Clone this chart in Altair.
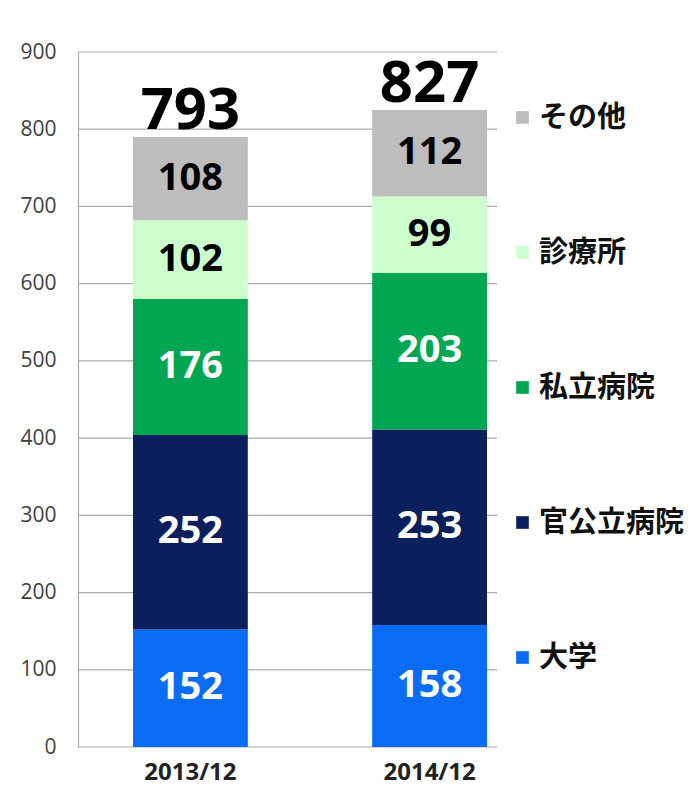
import altair as alt
import pandas as pd

periods = ["2013/12", "2014/12"]
series = ["大学", "官公立病院", "私立病院", "診療所", "その他"]
colors = ["#0A6CF5", "#0B1F5C", "#00A651", "#CCFFCC", "#BDBDBD"]
values_2013 = [152, 252, 176, 102, 108]
values_2014 = [158, 253, 203, 99, 112]
totals_shown = [793, 827]
label_colors = ["white", "white", "white", "black", "black"]
tick_values = [0, 100, 200, 300, 400, 500, 600, 700, 800, 900]

rows = []
for p, vals in zip(periods, [values_2013, values_2014]):
    for i, (s, v) in enumerate(zip(series, vals)):
        rows.append({"period": p, "series": s, "value": v, "idx": i, "tcolor": label_colors[i]})
df = pd.DataFrame(rows)
tot_df = pd.DataFrame({"period": periods, "total": totals_shown})
grid_df = pd.DataFrame({"tick": tick_values})

W, H = 464, 695
yscale = alt.Scale(domain=[0, 900], nice=False)
xenc = alt.X("period:N", sort=periods, title=None,
             scale=alt.Scale(paddingInner=0.52, paddingOuter=0.23),
             axis=alt.Axis(domain=False, ticks=False, labelAngle=0, labelFont="Open Sans",
                           labelFontWeight="bold", labelFontSize=24, labelColor="#222222",
                           labelPadding=13))

grid = alt.Chart(grid_df).mark_rule(color="#ABABAB", strokeWidth=1.2).encode(
    y=alt.Y("tick:Q", scale=yscale),
    x=alt.value(0), x2=alt.value(419)
)

base = alt.Chart(df).transform_stack(
    stack="value", as_=["y0", "y1"], groupby=["period"], sort=[alt.SortField("idx", order="ascending")]
).transform_calculate(mid="(datum.y0 + datum.y1) / 2")

legend_order = list(reversed(series))
legend_colors = list(reversed(colors))

bars = base.mark_bar().encode(
    x=xenc,
    y=alt.Y("y0:Q", scale=yscale, title=None,
            axis=alt.Axis(values=tick_values, grid=False, ticks=False, domain=True,
                          domainColor="#ABABAB", domainWidth=1.2, labelFont="Open Sans",
                          labelFontSize=21, labelColor="#404040", labelPadding=22)),
    y2="y1:Q",
    color=alt.Color("series:N", scale=alt.Scale(domain=legend_order, range=legend_colors),
                    legend=alt.Legend(title=None, orient="none", legendX=430, legendY=51,
                                      symbolType="square", symbolSize=160, symbolStrokeWidth=0,
                                      labelFont="Noto Sans CJK JP", labelFontWeight="bold",
                                      labelFontSize=29, labelColor="#111111", labelOffset=2,
                                      rowPadding=105, padding=0, labelLimit=300)),
)

seg_text = base.mark_text(font="Open Sans", fontWeight="bold", fontSize=38, baseline="middle").encode(
    x=alt.X("period:N", sort=periods),
    y=alt.Y("mid:Q", scale=yscale),
    text=alt.Text("value:Q"),
    color=alt.Color("tcolor:N", scale=None),
)

totals = alt.Chart(tot_df).mark_text(
    font="Open Sans", fontWeight="bold", fontSize=58, baseline="alphabetic", dy=-6, color="black"
).encode(
    x=alt.X("period:N", sort=periods),
    y=alt.Y("total:Q", scale=yscale),
    text="total:Q",
)

chart = alt.layer(grid, bars, seg_text, totals).properties(
    width=W, height=H,
    autosize=alt.AutoSizeParams(type="none"),
    padding={"left": 70, "top": 44, "right": 145, "bottom": 40},
    background="white",
).configure_view(stroke=None)

chart.save("out.html", embed_options={"renderer": "svg", "actions": False})
